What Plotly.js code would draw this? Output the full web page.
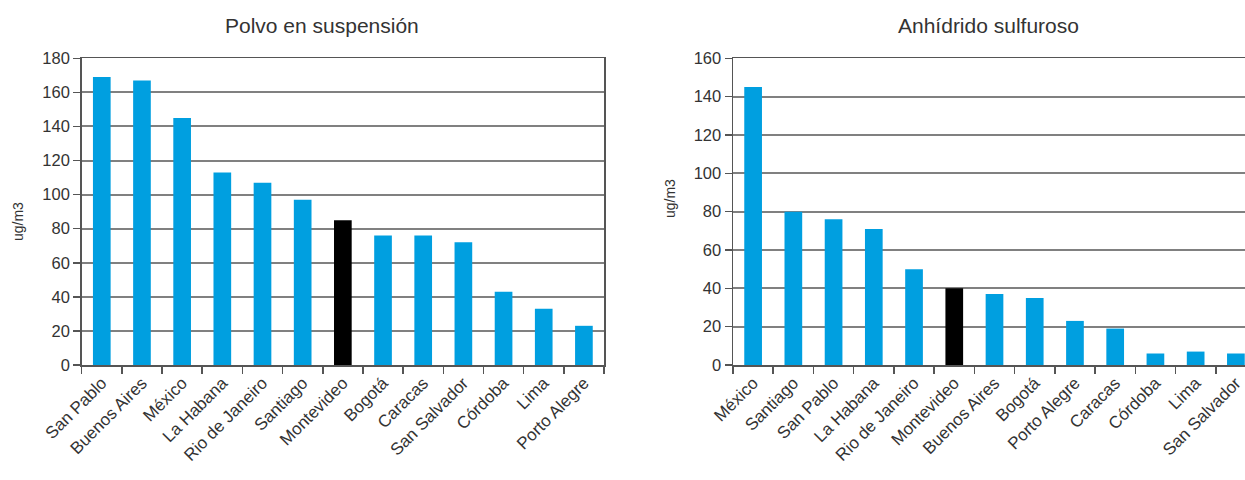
<!DOCTYPE html>
<html>
<head>
<meta charset="utf-8">
<script src="https://cdn.plot.ly/plotly-3.0.1.min.js"></script>
<style>
html,body{margin:0;padding:0;overflow:hidden;background:#fff;}
#chart{width:1260px;height:480px;}
</style>
</head>
<body>
<div id="chart"></div>
<script>
// Polvo en suspensión (ug/m3)
const polvoCities = ["San Pablo","Buenos Aires","México","La Habana","Rio de Janeiro","Santiago","Montevideo","Bogotá","Caracas","San Salvador","Córdoba","Lima","Porto Alegre"];
const polvoValues = [169, 167, 145, 113, 107, 97, 85, 76, 76, 72, 43, 33, 23];

// Anhídrido sulfuroso (ug/m3)
const so2Cities = ["México","Santiago","San Pablo","La Habana","Rio de Janeiro","Montevideo","Buenos Aires","Bogotá","Porto Alegre","Caracas","Córdoba","Lima","San Salvador"];
const so2Values = [145, 80, 76, 71, 50, 40, 37, 35, 23, 19, 6, 7, 6];

const highlight = "Montevideo";
const blue = "#009FE0";
const colorsFor = cats => cats.map(c => c === highlight ? "#000000" : blue);

const W = 1260, H = 480;
const font = "Liberation Sans, Arial, sans-serif";
const textColor = "#333333";

const traces = [
  {type:"bar", x: polvoCities, y: polvoValues, xaxis:"x", yaxis:"y",
   marker:{color: colorsFor(polvoCities), line:{width:0}}, hoverinfo:"x+y"},
  {type:"bar", x: so2Cities, y: so2Values, xaxis:"x2", yaxis:"y2",
   marker:{color: colorsFor(so2Cities), line:{width:0}}, hoverinfo:"x+y"}
];

const yDom = [(H-365)/H, (H-58.3)/H];

const xCommon = {
  type:"category", showline:true, mirror:true, linecolor:"#555", linewidth:1.5,
  ticks:"outside", tickson:"boundaries", ticklen:7, tickcolor:"#555", tickwidth:1.5,
  tickangle:-45, showgrid:false, zeroline:false,
  tickfont:{family:font, size:17, color:textColor}
};
const yCommon = {
  showline:true, mirror:true, linecolor:"#555", linewidth:1.5,
  ticks:"outside", ticklen:7, tickcolor:"#555", tickwidth:1.5,
  showgrid:true, gridcolor:"#808080", gridwidth:2, zeroline:false,
  tickfont:{family:font, size:16.5, color:textColor}
};

const layout = {
  width: W, height: H,
  margin:{l:0, r:0, t:0, b:0},
  paper_bgcolor:"#fff", plot_bgcolor:"#fff",
  showlegend:false, bargap:0.56,
  xaxis: Object.assign({}, xCommon, {domain:[81.7/W, 604/W], anchor:"y"}),
  yaxis: Object.assign({}, yCommon, {domain:yDom, range:[0,180], dtick:20, anchor:"x"}),
  xaxis2: Object.assign({}, xCommon, {domain:[733/W, 1256/W], anchor:"y2"}),
  yaxis2: Object.assign({}, yCommon, {domain:yDom, range:[0,160], dtick:20, anchor:"x2"}),
  annotations:[
    {text:"Polvo en suspensión", xref:"paper", yref:"paper", x:322/W, y:(H-25)/H,
     showarrow:false, xanchor:"center", yanchor:"middle", font:{family:font, size:21, color:textColor}},
    {text:"Anhídrido sulfuroso", xref:"paper", yref:"paper", x:988/W, y:(H-25)/H,
     showarrow:false, xanchor:"center", yanchor:"middle", font:{family:font, size:21, color:textColor}},
    {text:"ug/m3", xref:"paper", yref:"paper", x:18/W, y:(H-222)/H, textangle:-90,
     showarrow:false, xanchor:"center", yanchor:"middle", font:{family:font, size:14, color:textColor}},
    {text:"ug/m3", xref:"paper", yref:"paper", x:670/W, y:(H-199)/H, textangle:-90,
     showarrow:false, xanchor:"center", yanchor:"middle", font:{family:font, size:14, color:textColor}}
  ]
};

Plotly.newPlot("chart", traces, layout, {displayModeBar:false, staticPlot:true});
</script>
</body>
</html>
